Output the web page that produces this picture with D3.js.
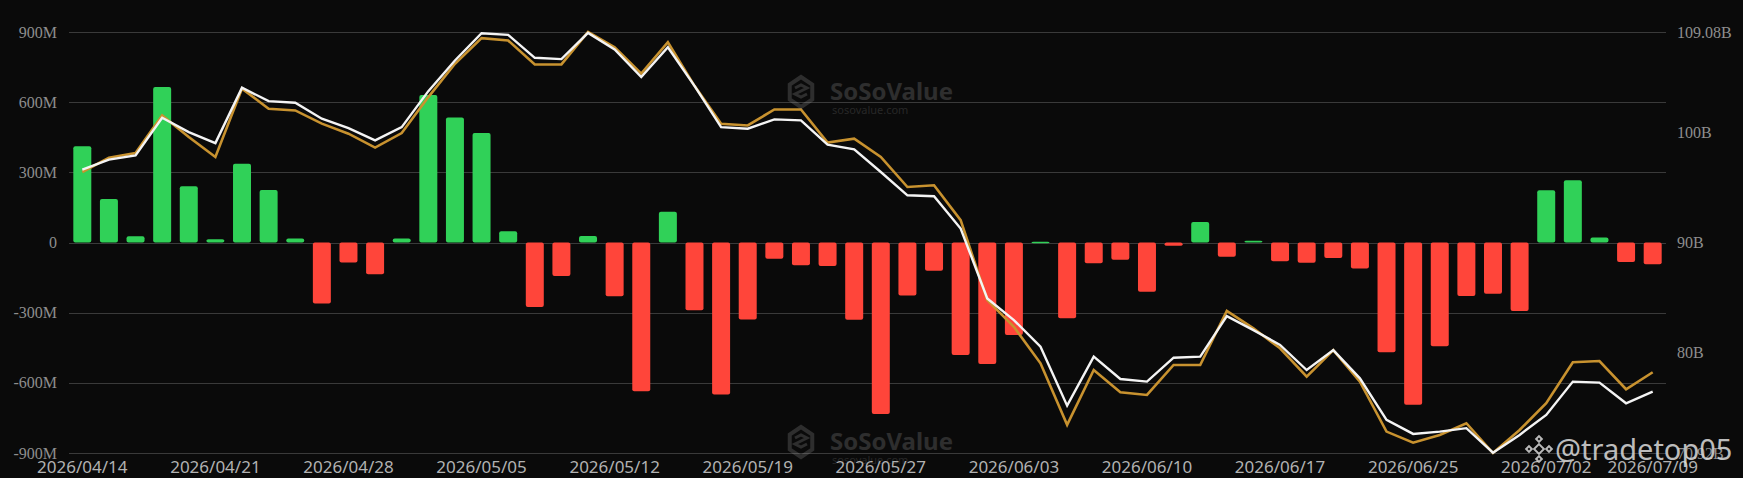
<!DOCTYPE html>
<html><head><meta charset="utf-8">
<script src="https://cdn.jsdelivr.net/npm/d3@7/dist/d3.min.js"></script>
<style>
html,body{margin:0;padding:0;background:#0a0a0a;}
svg{display:block;}
</style></head>
<body>
<svg id="chart" width="1743" height="478"></svg>
<script>
const dates = ["2026/04/14","2026/04/15","2026/04/16","2026/04/17","2026/04/20","2026/04/21","2026/04/22","2026/04/23","2026/04/24","2026/04/27","2026/04/28","2026/04/29","2026/04/30","2026/05/01","2026/05/04","2026/05/05","2026/05/06","2026/05/07","2026/05/08","2026/05/11","2026/05/12","2026/05/13","2026/05/14","2026/05/15","2026/05/18","2026/05/19","2026/05/20","2026/05/21","2026/05/22","2026/05/26","2026/05/27","2026/05/28","2026/05/29","2026/06/01","2026/06/02","2026/06/03","2026/06/04","2026/06/05","2026/06/08","2026/06/09","2026/06/10","2026/06/11","2026/06/12","2026/06/15","2026/06/16","2026/06/17","2026/06/18","2026/06/22","2026/06/23","2026/06/24","2026/06/25","2026/06/26","2026/06/29","2026/06/30","2026/07/01","2026/07/02","2026/07/06","2026/07/07","2026/07/08","2026/07/09"];

// daily net inflow, millions USD
const netInflow = [411,186,27,665,241,14,337,225,17,-261,-86,-136,17,631,534,468,48,-276,-143,28,-230,-636,132,-290,-650,-329,-69,-97,-101,-330,-733,-227,-121,-481,-519,-396,3,-324,-89,-74,-211,-14,88,-61,8,-80,-87,-66,-111,-469,-694,-444,-229,-219,-293,223,266,21,-83,-93];

// total net assets, billions USD (white line)
const totalNetAssets = [96.61,97.51,97.90,101.31,100.01,99.01,104.03,102.81,102.67,101.22,100.37,99.26,100.46,103.72,106.50,108.97,108.82,106.74,106.62,109.00,107.50,105.00,107.70,104.20,100.46,100.31,101.16,101.07,98.87,98.44,96.39,94.28,94.19,91.27,84.93,82.97,80.55,75.21,79.65,77.63,77.39,79.56,79.65,83.33,82.06,80.71,78.44,80.25,77.69,73.92,72.65,72.86,73.17,70.95,72.56,74.37,77.39,77.30,75.43,76.48];

// BTC price scaled to the right axis (gold line)
const btcScaled = [96.39,97.69,98.11,101.52,99.56,97.75,103.95,102.13,101.97,100.77,99.86,98.60,99.92,103.18,106.20,108.52,108.31,106.14,106.14,109.08,107.70,105.30,108.15,104.20,100.77,100.61,102.06,102.06,99.05,99.41,97.75,95.03,95.19,92.02,84.78,82.36,79.05,73.47,78.44,76.43,76.18,78.90,78.90,83.81,82.22,80.41,77.84,80.25,77.39,72.86,71.86,72.56,73.62,70.92,73.01,75.43,79.14,79.26,76.70,78.24];

const leftTicks = [-900,-600,-300,0,300,600,900];
const leftTickLabels = ["-900M","-600M","-300M","0","300M","600M","900M"];
const rightTicks = [70.92,80,90,100,109.08];
const rightTickLabels = ["70.92B","80B","90B","100B","109.08B"];
const xLabelIdx = [0,5,10,15,20,25,30,35,40,45,50,55,59];

const svg = d3.select("#chart");
const W = 1743, H = 478;
const L = 69, R = 1666, T = 32, B = 453;

svg.append("rect").attr("width",W).attr("height",H).attr("fill","#0a0a0a");

const x = d3.scaleBand().domain(dates).range([L,R]).paddingInner(0.324).paddingOuter(0.162);
const yL = d3.scaleLinear().domain([-900,900]).range([B,T]);
const yR = d3.scaleLinear().domain([70.92,109.08]).range([B,T]);

// gridlines
svg.append("g").selectAll("line").data(leftTicks).join("line")
  .attr("x1",L).attr("x2",R)
  .attr("y1",d=>Math.round(yL(d))+0.5).attr("y2",d=>Math.round(yL(d))+0.5)
  .attr("stroke","#3a3a3a").attr("stroke-width",1.2);

// left axis
const axL = svg.append("g").attr("transform",`translate(${L-10},0)`)
  .call(d3.axisLeft(yL).tickValues(leftTicks).tickSize(0).tickPadding(2)
    .tickFormat(d=>leftTickLabels[leftTicks.indexOf(d)]));
axL.select(".domain").remove();
axL.selectAll("text").attr("fill","#8e8e8e").style("font-family","'Liberation Serif', serif").style("font-size","16px");

// right axis
const axR = svg.append("g").attr("transform",`translate(${R+9},0)`)
  .call(d3.axisRight(yR).tickValues(rightTicks).tickSize(0).tickPadding(2)
    .tickFormat(d=>rightTickLabels[rightTicks.indexOf(d)]));
axR.select(".domain").remove();
axR.selectAll("text").attr("fill","#8e8e8e").style("font-family","'Liberation Serif', serif").style("font-size","16px");

// bottom axis
const axB = svg.append("g").attr("transform",`translate(0,${B+6})`)
  .call(d3.axisBottom(x).tickValues(xLabelIdx.map(i=>dates[i])).tickSize(0).tickPadding(2));
axB.select(".domain").remove();
axB.selectAll("text").attr("fill","#b2b2b2").style("font-family","'Noto Sans', sans-serif").style("font-size","17px");

// bars
const bw = x.bandwidth();
svg.append("g").selectAll("rect").data(netInflow).join("rect")
  .attr("x",(d,i)=>x(dates[i]))
  .attr("width",bw)
  .attr("y",d=>d>=0?yL(d):yL(0))
  .attr("height",d=>Math.max(Math.abs(yL(d)-yL(0)),1.5))
  .attr("rx",2)
  .attr("fill",d=>d>=0?"#30d158":"#ff453a");

// lines
const line = d3.line().x((d,i)=>x(dates[i])+bw/2).y(d=>yR(d));
svg.append("path").datum(btcScaled).attr("d",line)
  .attr("fill","none").attr("stroke","#c8922f").attr("stroke-width",2.6);
svg.append("path").datum(totalNetAssets).attr("d",line)
  .attr("fill","none").attr("stroke","#f4f4f4").attr("stroke-width",2.4);

// SoSoValue watermarks
function soso(cx, cy){
  const g = svg.append("g").attr("transform",`translate(${cx},${cy})`).attr("opacity",0.2);
  const hex = d3.range(6).map(k=>{const a=Math.PI/3*k - Math.PI/2; return [13*Math.cos(a),15*Math.sin(a)];});
  g.append("path").attr("d","M"+hex.join("L")+"Z").attr("fill","none").attr("stroke","#bdbdbd").attr("stroke-width",4);
  g.append("path").attr("d","M-6,-4 L0,-7 L6,-4 L0,-1 L-6,2 L0,5 L6,2")
    .attr("fill","none").attr("stroke","#bdbdbd").attr("stroke-width",3);
  g.append("text").attr("x",29).attr("y",8).text("SoSoValue")
    .style("font-family","'Noto Sans', sans-serif").style("font-weight","700").style("font-size","24px").attr("fill","#bdbdbd");
  g.append("text").attr("x",31).attr("y",22).text("sosovalue.com")
    .style("font-family","'Noto Sans', sans-serif").style("font-size","11px").attr("fill","#9a9a9a");
}
soso(801,92);
soso(801,442);

// user watermark
const wm = svg.append("g").attr("opacity",0.85);
const bx = 1539, by = 449;
const dia = (cx,cy,s)=>wm.append("rect").attr("x",cx-s/2).attr("y",cy-s/2).attr("width",s).attr("height",s)
  .attr("transform",`rotate(45,${cx},${cy})`).attr("fill","none").attr("stroke","#d8d8d8").attr("stroke-width",2);
dia(bx,by,7); dia(bx-10,by,4); dia(bx+10,by,4); dia(bx,by-10,4); dia(bx,by+10,4);
wm.append("text").attr("x",1555).attr("y",460).text("@tradetop05")
  .style("font-family","'Noto Sans', sans-serif").style("font-size","29px").attr("fill","#dcdcdc");
</script>
</body></html>
